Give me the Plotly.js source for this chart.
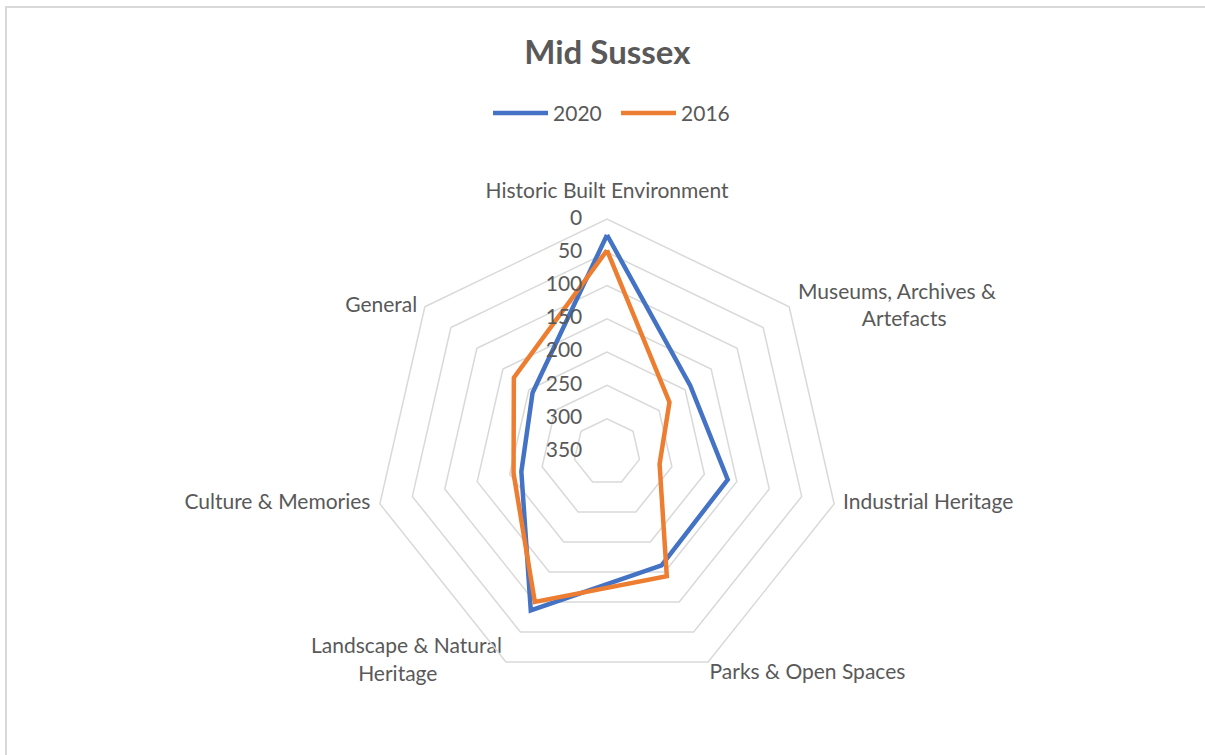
<!DOCTYPE html>
<html>
<head>
<meta charset="utf-8">
<script src="https://cdn.plot.ly/plotly-3.0.1.min.js"></script>
<style>
  html, body { margin: 0; padding: 0; background: #fff; }
  #chart { position: absolute; left: 0; top: 0; width: 1205px; height: 755px; }
  #frame { position: absolute; left: 5px; top: 6px; width: 1400px; height: 900px;
           border-top: 2px solid #d9d9d9; border-left: 2px solid #d9d9d9; pointer-events: none; }
</style>
</head>
<body>
<div id="chart"></div>
<div id="frame"></div>
<script>
const NB = "\u00a0";
const categories = [
  "Historic Built Environment",
  "Museums, Archives & Artefacts",
  "Industrial Heritage",
  "Parks & Open Spaces",
  "Landscape & Natural Heritage",
  "Culture & Memories",
  "General"
];
const categoryLabels = [
  "Historic Built Environment",
  "Museums, Archives &<br>" + NB.repeat(12) + "Artefacts",
  "Industrial Heritage",
  "Parks & Open Spaces",
  "Landscape & Natural<br>Heritage" + NB.repeat(12),
  "Culture & Memories",
  "General"
];
const values2020 = [24, 190, 164, 161, 86, 218, 207];
const values2016 = [47, 230, 269, 143, 100, 206, 171];
const seriesNames = ["2020", "2016"];
const seriesColors = ["#4472c4", "#ed7d31"];
const radialTicks = [0, 50, 100, 150, 200, 250, 300, 350];
const radialTickLabels = ["0", "50", "100", "150", "200", "250", "300", "350"];

// label placement styling (not data)
const labelStyle = {
  positions: ["top center", "middle right", "middle right", "bottom right", "middle left", "middle left", "middle left"],
  pads: [24, 13, 13, 1, 5, 14, 11]
};
// Plotly hides cliponaxis:false text lying exactly on the r=0 edge of a reversed
// radial axis; nudge anchor points by a sub-pixel amount so they stay visible.
const EDGE_NUDGE = 0.5;
const anchorR = v => (v === 0 ? EDGE_NUDGE : v);

function closed(arr) { return arr.concat([arr[0]]); }

const font = "Lato, 'Open Sans', sans-serif";
const textColor = "#595959";

const traces = [values2020, values2016].map((vals, i) => ({
  type: "scatterpolar",
  mode: "lines",
  name: seriesNames[i],
  r: closed(vals),
  theta: closed(categories),
  line: { color: seriesColors[i], width: 4.5 },
  hoverinfo: "skip"
}));

// radial tick labels on the first spoke, through the polar scale
traces.push({
  type: "scatterpolar",
  mode: "markers+text",
  r: radialTicks.map(anchorR),
  theta: radialTicks.map(() => categories[0]),
  text: radialTickLabels,
  textposition: "middle left",
  textfont: { family: font, size: 21, color: textColor },
  marker: { size: 38, color: "rgba(0,0,0,0)" },
  cliponaxis: false,
  showlegend: false,
  hoverinfo: "skip"
});

// category labels at the outer vertex of each spoke
traces.push({
  type: "scatterpolar",
  mode: "markers+text",
  r: categories.map(() => anchorR(radialTicks[0])),
  theta: categories,
  text: categoryLabels,
  textposition: labelStyle.positions,
  textfont: { family: font, size: 21, color: textColor },
  marker: { size: labelStyle.pads, color: "rgba(0,0,0,0)" },
  cliponaxis: false,
  showlegend: false,
  hoverinfo: "skip"
});

const layout = {
  width: 1205,
  height: 755,
  margin: { l: 0, r: 0, t: 0, b: 0 },
  paper_bgcolor: "#ffffff",
  font: { family: font, color: textColor, size: 21 },
  title: {
    text: "<b>Mid Sussex</b>",
    font: { family: font, size: 33, color: textColor },
    x: 0.504, xanchor: "center",
    y: 0.931, yanchor: "middle"
  },
  showlegend: true,
  legend: {
    orientation: "h",
    x: 0.405, xanchor: "left",
    y: 0.850, yanchor: "middle",
    font: { family: font, size: 21, color: textColor },
    itemwidth: 55,
    entrywidth: 58,
    bgcolor: "rgba(0,0,0,0)"
  },
  polar: {
    domain: { x: [0.3104, 0.6971], y: [0.0927, 0.7099] },
    gridshape: "linear",
    bgcolor: "#ffffff",
    radialaxis: {
      range: [350, 0],
      tickvals: radialTicks,
      showticklabels: false,
      angle: 90,
      showline: false,
      ticks: "",
      gridcolor: "#d9d9d9",
      gridwidth: 1.5
    },
    angularaxis: {
      type: "category",
      categoryarray: categories,
      direction: "clockwise",
      rotation: 90,
      showgrid: false,
      showline: true,
      linecolor: "#d9d9d9",
      linewidth: 1.5,
      showticklabels: false,
      ticks: ""
    }
  }
};

Plotly.newPlot("chart", traces, layout, { displayModeBar: false, staticPlot: true });
</script>
</body>
</html>
